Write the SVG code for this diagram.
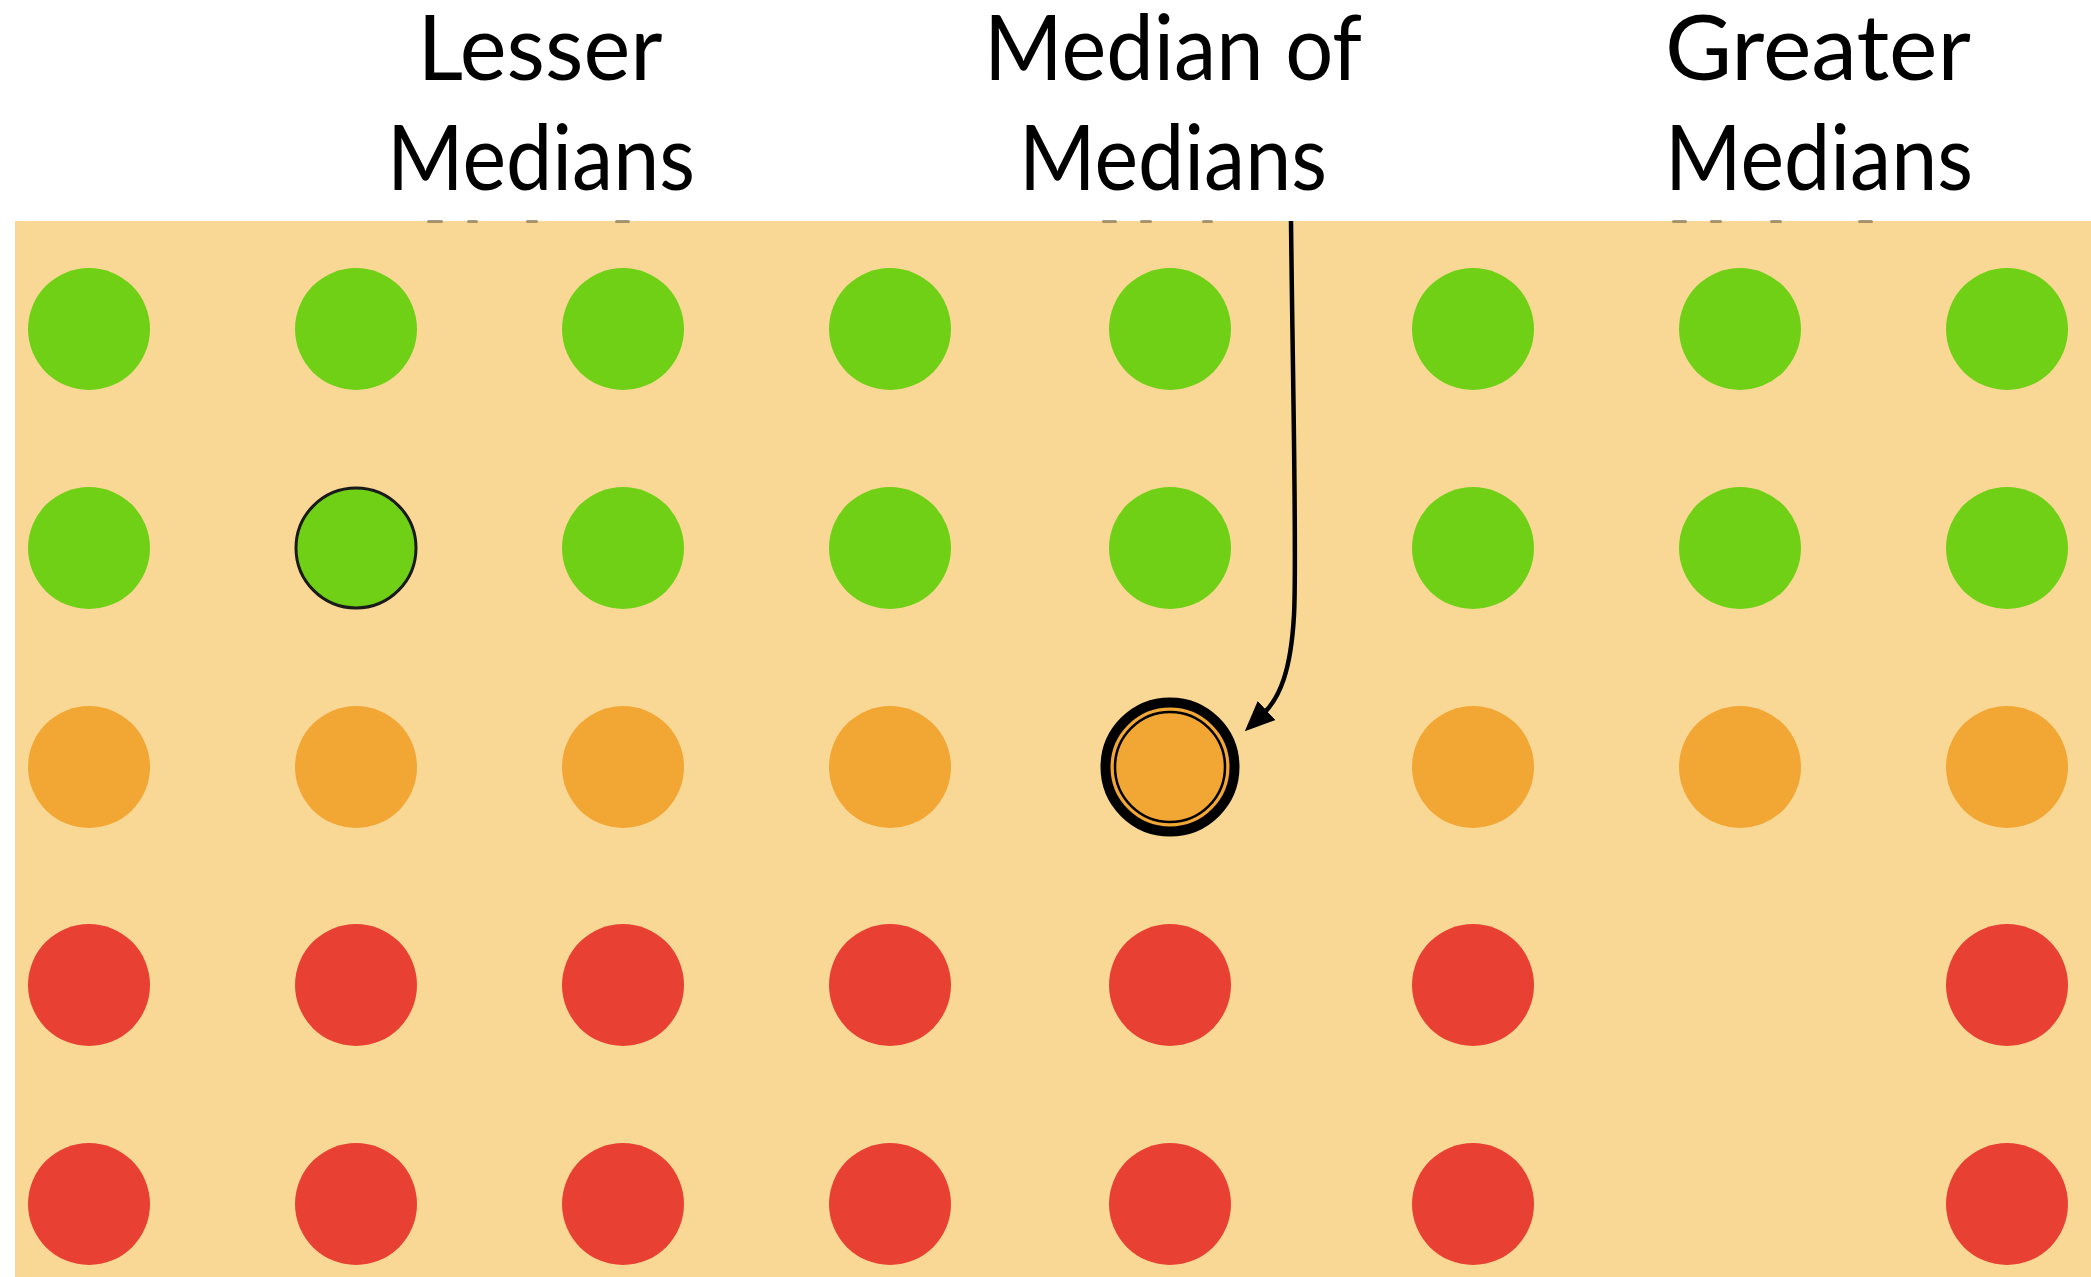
<svg xmlns="http://www.w3.org/2000/svg" width="2091" height="1277" viewBox="0 0 2091 1277">
  <style>
    .label { font-family: "Lato", "Liberation Sans", sans-serif; font-size: 92px; fill: #000; text-anchor: middle; }
    .g { fill: #6fd016; }
    .o { fill: #f2a735; }
    .r { fill: #e94034; }
    .tick { fill: #8a7a58; opacity: 0.75; }
  </style>
  <defs>
    <marker id="arrowhead" markerUnits="userSpaceOnUse" markerWidth="34" markerHeight="30" refX="5" refY="13" orient="auto">
      <path d="M0,0 L30,13 L0,26 Z" fill="#000"/>
    </marker>
  </defs>

  <rect width="2091" height="1277" fill="#fff"/>
  <rect x="15" y="221" width="2076" height="1056" fill="#f9d896"/>

  <!-- tiny marks at the top edge of the panel -->
  <g id="edge-marks">
    <rect class="tick" x="427" y="220" width="16" height="3" rx="1.5"/>
    <rect class="tick" x="467" y="220" width="11" height="3" rx="1.5"/>
    <rect class="tick" x="526" y="220" width="12" height="3" rx="1.5"/>
    <rect class="tick" x="615" y="220" width="15" height="3" rx="1.5"/>
    <rect class="tick" x="1102" y="220" width="15" height="3" rx="1.5"/>
    <rect class="tick" x="1140" y="220" width="12" height="3" rx="1.5"/>
    <rect class="tick" x="1202" y="220" width="11" height="3" rx="1.5"/>
    <rect class="tick" x="1672" y="220" width="15" height="3" rx="1.5"/>
    <rect class="tick" x="1710" y="220" width="12" height="3" rx="1.5"/>
    <rect class="tick" x="1770" y="220" width="12" height="3" rx="1.5"/>
    <rect class="tick" x="1858" y="220" width="15" height="3" rx="1.5"/>
  </g>

  <!-- column headings -->
  <g id="label-lesser">
    <text class="label" x="540" y="80" textLength="245" lengthAdjust="spacingAndGlyphs">Lesser</text>
    <text class="label" x="541" y="190" textLength="308" lengthAdjust="spacingAndGlyphs">Medians</text>
  </g>
  <g id="label-median">
    <text class="label" x="1173" y="80" textLength="378" lengthAdjust="spacingAndGlyphs">Median of</text>
    <text class="label" x="1173" y="190" textLength="308" lengthAdjust="spacingAndGlyphs">Medians</text>
  </g>
  <g id="label-greater">
    <text class="label" x="1818" y="80" textLength="306" lengthAdjust="spacingAndGlyphs">Greater</text>
    <text class="label" x="1819" y="190" textLength="308" lengthAdjust="spacingAndGlyphs">Medians</text>
  </g>

  <!-- row 1: green -->
  <g id="row1">
    <circle class="g" cx="89" cy="329" r="61"/>
    <circle class="g" cx="356" cy="329" r="61"/>
    <circle class="g" cx="623" cy="329" r="61"/>
    <circle class="g" cx="890" cy="329" r="61"/>
    <circle class="g" cx="1170" cy="329" r="61"/>
    <circle class="g" cx="1473" cy="329" r="61"/>
    <circle class="g" cx="1740" cy="329" r="61"/>
    <circle class="g" cx="2007" cy="329" r="61"/>
  </g>
  <!-- row 2: green, lesser-median column marked -->
  <g id="row2">
    <circle class="g" cx="89" cy="548" r="61"/>
    <circle class="g" cx="356" cy="548" r="60" stroke="#1a1a1a" stroke-width="3"/>
    <circle class="g" cx="623" cy="548" r="61"/>
    <circle class="g" cx="890" cy="548" r="61"/>
    <circle class="g" cx="1170" cy="548" r="61"/>
    <circle class="g" cx="1473" cy="548" r="61"/>
    <circle class="g" cx="1740" cy="548" r="61"/>
    <circle class="g" cx="2007" cy="548" r="61"/>
  </g>
  <!-- row 3: orange medians -->
  <g id="row3">
    <circle class="o" cx="89" cy="767" r="61"/>
    <circle class="o" cx="356" cy="767" r="61"/>
    <circle class="o" cx="623" cy="767" r="61"/>
    <circle class="o" cx="890" cy="767" r="61"/>
    <circle class="o" cx="1473" cy="767" r="61"/>
    <circle class="o" cx="1740" cy="767" r="61"/>
    <circle class="o" cx="2007" cy="767" r="61"/>
  </g>
  <g id="median-of-medians">
    <circle class="o" cx="1170" cy="767" r="64.5" stroke="#000" stroke-width="10"/>
    <circle cx="1170" cy="767" r="55" fill="none" stroke="#000" stroke-width="2.5"/>
  </g>
  <!-- rows 4 and 5: red -->
  <g id="row4">
    <circle class="r" cx="89" cy="985" r="61"/>
    <circle class="r" cx="356" cy="985" r="61"/>
    <circle class="r" cx="623" cy="985" r="61"/>
    <circle class="r" cx="890" cy="985" r="61"/>
    <circle class="r" cx="1170" cy="985" r="61"/>
    <circle class="r" cx="1473" cy="985" r="61"/>
    <circle class="r" cx="2007" cy="985" r="61"/>
  </g>
  <g id="row5">
    <circle class="r" cx="89" cy="1204" r="61"/>
    <circle class="r" cx="356" cy="1204" r="61"/>
    <circle class="r" cx="623" cy="1204" r="61"/>
    <circle class="r" cx="890" cy="1204" r="61"/>
    <circle class="r" cx="1170" cy="1204" r="61"/>
    <circle class="r" cx="1473" cy="1204" r="61"/>
    <circle class="r" cx="2007" cy="1204" r="61"/>
  </g>

  <!-- pointer from heading to the median of medians -->
  <g id="connectors">
    <path d="M1291,221 C1293,400 1297,560 1294,615 C1291,670 1280,698 1263,714" fill="none" stroke="#000" stroke-width="4.5" marker-end="url(#arrowhead)"/>
  </g>
</svg>
